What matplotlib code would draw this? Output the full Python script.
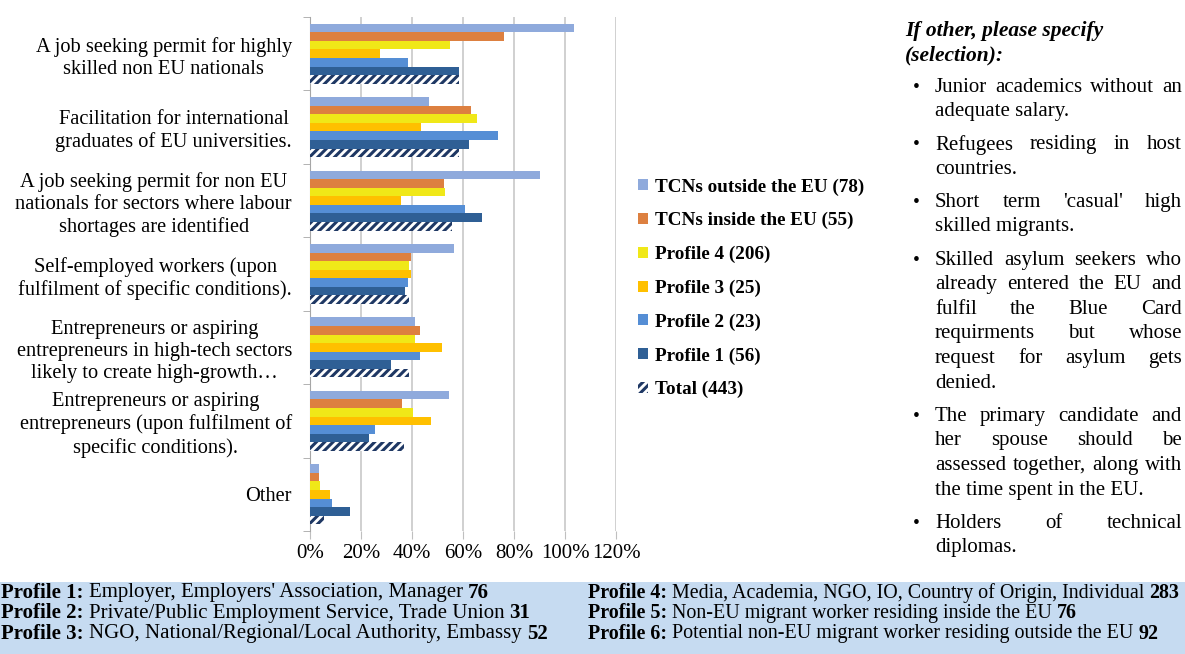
import matplotlib.pyplot as plt
import matplotlib.patches as mpatches
import numpy as np

W, H = 1185, 654

categories = [
    "A job seeking permit for highly\nskilled non EU nationals",
    "Facilitation for international\ngraduates of EU universities.",
    "A job seeking permit for non EU\nnationals for sectors where labour\nshortages are identified",
    "Self-employed workers (upon\nfulfilment of specific conditions).",
    "Entrepreneurs or aspiring\nentrepreneurs in high-tech sectors\nlikely to create high-growth\u2026",
    "Entrepreneurs or aspiring\nentrepreneurs (upon fulfilment of\nspecific conditions).",
    "Other",
]
series_names = ["TCNs outside the EU (78)", "TCNs inside the EU (55)", "Profile 4 (206)",
                "Profile 3 (25)", "Profile 2 (23)", "Profile 1 (56)", "Total (443)"]
tcn_outside = [103.4, 46.8, 90.3, 56.3, 41.3, 54.4, 3.4]
tcn_inside = [76.1, 63.1, 52.4, 39.6, 43.3, 36.1, 3.4]
profile4 = [55.0, 65.5, 53.1, 38.9, 41.3, 40.2, 4.0]
profile3 = [27.6, 43.5, 35.7, 39.6, 51.8, 47.6, 7.8]
profile2 = [38.5, 73.7, 60.6, 38.5, 43.3, 25.6, 8.5]
profile1 = [58.5, 62.2, 67.5, 37.1, 31.8, 23.0, 15.8]
total = [58.5, 58.3, 55.7, 38.8, 38.8, 37.0, 5.6]
x_ticks = [0, 20, 40, 60, 80, 100, 120]

side_title = "If other, please specify\n(selection):"
bullets = [
    ["Junior academics without an", "adequate salary."],
    ["Refugees residing in host", "countries."],
    ["Short term 'casual' high", "skilled migrants."],
    ["Skilled asylum seekers who", "already entered the EU and", "fulfil the Blue Card",
     "requirments but whose", "request for asylum gets", "denied."],
    ["The primary candidate and", "her spouse should be", "assessed together, along with",
     "the time spent in the EU."],
    ["Holders of technical", "diplomas."],
]
profiles_left = [
    ("Profile 1:", "Employer, Employers' Association, Manager", "76"),
    ("Profile 2:", "Private/Public Employment Service, Trade Union", "31"),
    ("Profile 3:", "NGO, National/Regional/Local Authority, Embassy", "52"),
]
profiles_right = [
    ("Profile 4:", "Media, Academia, NGO, IO, Country of Origin, Individual", "283"),
    ("Profile 5:", "Non-EU migrant worker residing inside the EU", "76"),
    ("Profile 6:", "Potential non-EU migrant worker residing outside the EU", "92"),
]

series = [tcn_outside, tcn_inside, profile4, profile3, profile2, profile1, total]
colors = ["#8FAADC", "#DD8040", "#F0E818", "#FFC000", "#558ED5", "#2F5F95", "white"]

plt.rcParams["font.family"] = ["Liberation Serif", "DejaVu Serif"]
plt.rcParams["hatch.linewidth"] = 2.2
plt.rcParams["hatch.color"] = "#1F3864"

fig = plt.figure(figsize=(W / 100, H / 100), dpi=100)
ax = fig.add_axes([310 / W, 1 - 531 / H, 306 / W, 514 / H])

y = np.arange(len(categories))
h = 0.1166
for i, (vals, col) in enumerate(zip(series, colors)):
    if i == 6:
        ax.barh(y + (i - 3) * h, vals, height=h, color="white", edgecolor="#1F3864",
                hatch="////", linewidth=0, zorder=3, label=series_names[i])
    else:
        ax.barh(y + (i - 3) * h, vals, height=h, color=col, linewidth=0, zorder=3,
                label=series_names[i])

ax.set_ylim(len(categories) - 0.5, -0.5)
ax.set_xlim(0, 120)
ax.set_xticks(x_ticks)
ax.set_xticklabels([f"{t}%" for t in x_ticks], fontsize=15)
ax.set_yticks(y)
ax.set_yticklabels(categories, fontsize=14.7, ha="right", multialignment="center",
                   linespacing=1.22)
ax.set_yticks(np.arange(-0.5, len(categories)), minor=True)
ax.tick_params(axis="y", which="major", length=0, pad=13)
ax.tick_params(axis="y", which="minor", length=5, color="#A6A6A6")
ax.tick_params(axis="x", length=6, color="#BFBFBF", pad=3)
ax.grid(axis="x", color="#C8C8C8", linewidth=1.2, zorder=0)
for s in ["top", "right", "bottom"]:
    ax.spines[s].set_visible(False)
ax.spines["left"].set_color("#A6A6A6")

handles = [mpatches.Patch(facecolor=c, edgecolor="#1F3864" if i == 6 else c,
                          hatch="////" if i == 6 else None, linewidth=0)
           for i, c in enumerate(colors)]
fig.legend(handles, series_names, loc="upper left", bbox_to_anchor=(621 / W, 1 - 161 / H),
           frameon=False, prop={"weight": "bold", "size": 13.8}, handlelength=0.5,
           handleheight=0.5, handletextpad=0.35, labelspacing=0.86)

renderer = fig.canvas.get_renderer()


def fx(px):
    return px / W


def fy(py):
    return 1 - py / H


def tw(t):
    return t.get_window_extent(renderer).width


def space_width(size, weight="normal"):
    a = fig.text(0, 0, "x x", fontsize=size, weight=weight)
    b = fig.text(0, 0, "xx", fontsize=size, weight=weight)
    w = tw(a) - tw(b)
    a.remove()
    b.remove()
    return w


# side panel
fig.text(fx(905), fy(43), side_title, fontsize=15.5, weight="bold", style="italic",
         va="center", linespacing=1.3)

left_x, right_x = 935, 1182
line_y = 87
for block in bullets:
    fig.text(fx(913), fy(line_y), "\u2022", fontsize=14, va="center")
    for j, line in enumerate(block):
        words = line.split()
        if j == len(block) - 1 or len(words) == 1:
            fig.text(fx(left_x), fy(line_y), line, fontsize=15, va="center")
        else:
            items = [fig.text(0, fy(line_y), wd, fontsize=15, va="center") for wd in words]
            widths = [tw(t) for t in items]
            gap = (right_x - left_x - sum(widths)) / (len(words) - 1)
            xpos = left_x
            for t, wdt in zip(items, widths):
                t.set_x(fx(xpos))
                xpos += wdt + gap
        line_y += 24.6
    line_y += 8.5

# bottom band
fig.patches.append(mpatches.Rectangle((0, 0), 1, fy(582), transform=fig.transFigure,
                                      facecolor="#C6DBF1", edgecolor="none", zorder=0))
for col_x, rows, size in [(1, profiles_left, 15), (588, profiles_right, 14.4)]:
    sp_n = space_width(size)
    for k, (lab, desc, num) in enumerate(rows):
        yy = fy(593 + k * 20.3)
        xpos = col_x
        for txt, wgt in [(lab, "bold"), (desc, "normal"), (num, "bold")]:
            t = fig.text(fx(xpos), yy, txt, fontsize=size, weight=wgt, va="center")
            xpos += tw(t) + sp_n

fig.savefig("out.png", dpi=100)
